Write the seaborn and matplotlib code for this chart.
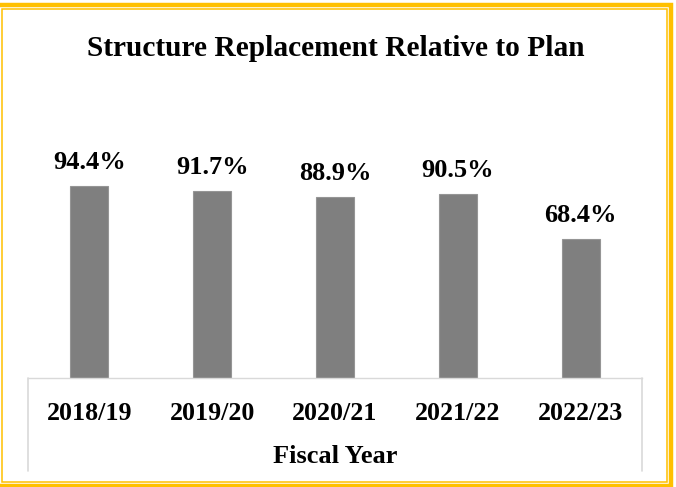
import matplotlib
matplotlib.use("Agg")
import matplotlib.pyplot as plt
from matplotlib.patches import Rectangle
import pandas as pd
import seaborn as sns

# Share of planned structure replacements completed, by fiscal year
fiscal_years = ["2018/19", "2019/20", "2020/21", "2021/22", "2022/23"]
pct_of_plan = [94.4, 91.7, 88.9, 90.5, 68.4]
value_labels = [f"{v:.1f}%" for v in pct_of_plan]

sns.set_style("white")
plt.rcParams["font.family"] = ["Liberation Serif", "DejaVu Serif"]
plt.rcParams["font.weight"] = "bold"
plt.rcParams["text.color"] = "black"
plt.rcParams["axes.labelcolor"] = "black"
plt.rcParams["xtick.color"] = "black"
plt.rcParams["xtick.labelcolor"] = "black"

W, H = 676, 487
fig = plt.figure(figsize=(W / 100, H / 100), dpi=100)

# plot area in pixel terms: x 28..642, baseline at y=378, 0-100 spans 203.4 px
ax = fig.add_axes([28 / W, (H - 378) / H, 614 / W, 203.4 / H])

df = pd.DataFrame({"Fiscal Year": fiscal_years, "Percent": pct_of_plan})
sns.barplot(data=df, x="Fiscal Year", y="Percent", color="#7F7F7F",
            saturation=1, width=0.31, edgecolor="#959595", linewidth=0.8,
            ax=ax)

ax.set_xlim(-0.5, len(fiscal_years) - 0.5)
ax.set_ylim(0, 100)

# value labels above each bar
for i, (v, lab) in enumerate(zip(pct_of_plan, value_labels)):
    ax.annotate(lab, xy=(i, v), xytext=(0, 12.3), textcoords="offset points",
                ha="center", va="baseline", fontsize=19, fontweight="bold",
                color="black", annotation_clip=False)

# axes styling
for side in ("top", "left", "right"):
    ax.spines[side].set_visible(False)
ax.spines["bottom"].set_color("#D9D9D9")
ax.spines["bottom"].set_linewidth(1.0)
ax.set_yticks([])
ax.set_ylabel("")
ax.tick_params(axis="x", length=0, pad=17.0, labelsize=18.7,
               labelcolor="black")
for t in ax.get_xticklabels():
    t.set_fontweight("bold")
ax.set_xlabel("Fiscal Year", fontsize=19, fontweight="bold", labelpad=15.0,
              color="black")

# edge lines of the category axis
for xb in (-0.5, len(fiscal_years) - 0.5):
    ax.axvline(xb, ymin=-93 / 203.4, ymax=0, color="#D9D9D9", lw=1.2,
               clip_on=False)

fig.text(0.5 * (87 + 584) / W, (H - 55.7) / H,
         "Structure Replacement Relative to Plan", ha="center",
         va="baseline", fontsize=21.2, fontweight="bold", color="black")

# double gold frame
def px_rect(x0, y0, x1, y1, lw, color):
    fig.patches.append(Rectangle((x0 / W, (H - y1) / H), (x1 - x0) / W,
                                 (y1 - y0) / H, transform=fig.transFigure,
                                 fill=False, edgecolor=color, linewidth=lw,
                                 figure=fig))

px_rect(-2, 4.7, 670.5, 486, 3.2, "#FFC000")
px_rect(2, 8.5, 666.5, 482, 1.1, "#FFC000")

fig.savefig("out.png", dpi=100)
